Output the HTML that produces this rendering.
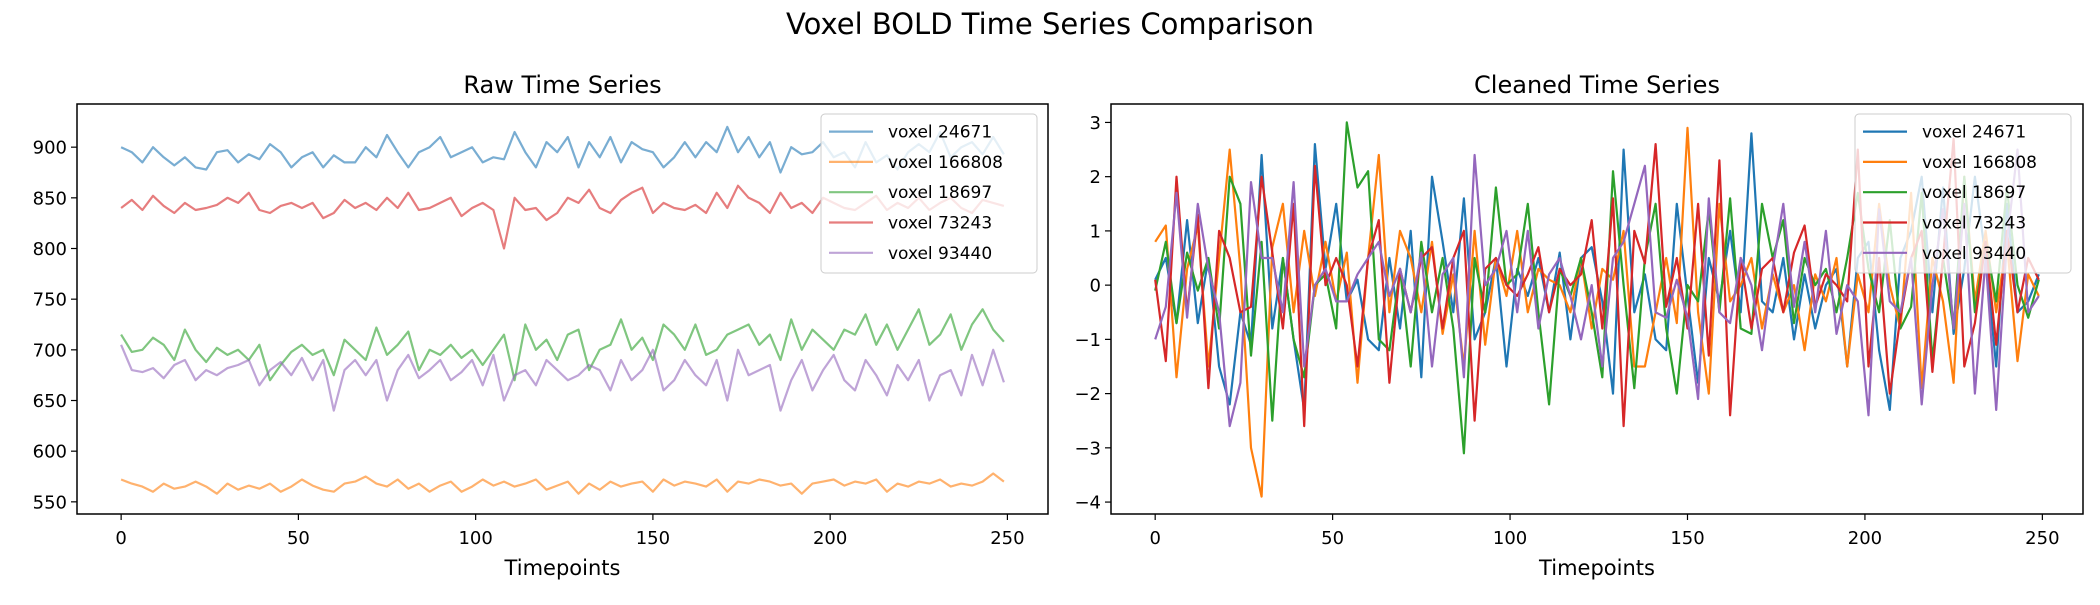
<!DOCTYPE html>
<html><head><meta charset="utf-8"><style>
body{margin:0;background:#fff}
svg text{font-family:"DejaVu Sans","Liberation Sans",sans-serif;fill:#000}
</style></head><body>
<svg id="chart" width="2100" height="600" viewBox="0 0 2100 600" xmlns="http://www.w3.org/2000/svg">
<rect width="2100" height="600" fill="#fff"/>
<text x="1050" y="34" font-size="29" text-anchor="middle">Voxel BOLD Time Series Comparison</text>
<g id="left"></g>
<g id="right"></g>
</svg>
<script>
const voxelNames = ["voxel 24671","voxel 166808","voxel 18697","voxel 73243","voxel 93440"];
const colors = ["#1f77b4","#ff7f0e","#2ca02c","#d62728","#9467bd"];
const timeStep = 3;
const xTicks = [0,50,100,150,200,250];
const rawYTicks = [550,600,650,700,750,800,850,900];
const cleanYTicks = [-4,-3,-2,-1,0,1,2,3];
const rawBlue = [900,895,885,900,890,882,890,880,878,895,897,885,893,888,903,895,880,890,895,880,892,885,885,900,890,912,895,880,895,900,910,890,895,900,885,890,888,915,895,880,905,895,910,880,905,890,910,885,905,898,895,880,890,905,890,905,895,920,895,910,890,905,875,900,893,895,905,890,895,880,905,885,892,878,895,903,895,915,890,900,905,893,910,893];
const rawOrange = [572,568,565,560,568,563,565,570,565,558,568,562,566,563,568,560,565,572,566,562,560,568,570,575,568,565,572,563,568,560,566,570,560,565,572,566,570,565,568,572,562,566,570,558,568,562,570,565,568,570,560,572,566,570,568,565,572,560,570,568,572,570,566,568,558,568,570,572,566,570,568,572,560,568,565,570,568,572,565,568,566,570,578,570];
const rawGreen = [715,698,700,712,705,690,720,700,688,702,695,700,690,705,670,685,698,705,695,700,675,710,700,690,722,695,705,718,680,700,695,705,692,700,685,700,715,670,725,700,710,690,715,720,680,700,705,730,700,712,690,725,715,700,725,695,700,715,720,725,705,715,690,730,700,720,710,700,720,715,735,705,725,700,720,740,705,715,735,700,725,740,720,708];
const rawRed = [840,848,838,852,842,835,845,838,840,843,850,845,855,838,835,842,845,840,845,830,835,848,840,845,838,850,840,855,838,840,845,850,832,840,845,838,800,850,838,840,828,835,850,845,858,840,835,848,855,860,835,845,840,838,843,835,855,840,862,850,845,835,855,840,845,835,850,845,840,838,845,852,838,845,840,850,838,845,850,840,835,848,845,842];
const rawPurple = [705,680,678,682,672,685,690,670,680,675,682,685,690,665,680,688,675,692,670,690,640,680,690,675,690,650,680,695,672,680,690,670,678,690,665,695,650,675,680,665,690,680,670,675,685,680,660,690,670,680,700,660,670,690,675,665,690,650,700,675,680,685,640,670,690,660,680,695,670,660,690,675,655,685,670,690,650,675,680,655,695,665,700,668];
const cleanBlue = [0.1,0.5,-0.7,1.2,-0.7,0.5,-1.5,-2.2,-0.5,-1.1,2.4,-0.8,0.5,-1.0,-2.3,2.6,0.3,1.5,-0.3,0.1,-1.0,-1.2,0.5,-0.8,1.0,-1.7,2.0,0.8,-0.5,1.6,-1.0,-0.5,0.5,-1.5,0.3,-0.2,0.5,-0.5,0.6,-1.0,0.5,0.7,-0.3,-2.0,2.5,-0.5,0.2,-1.0,-1.2,1.5,-0.2,-1.8,0.5,-0.3,1.0,-0.5,2.8,-0.3,-0.5,0.5,-1.0,0.2,-0.8,0.0,0.3,-1.5,0.5,0.8,-1.2,-2.3,0.5,1.0,2.0,-0.5,1.8,-0.9,0.3,2.0,0.5,-1.5,1.5,-0.5,-0.3,0.2];
const cleanOrange = [0.8,1.1,-1.7,0.3,1.1,-1.5,0.5,2.5,0.3,-3.0,-3.9,0.7,1.5,-0.5,1.0,-0.2,0.8,-0.3,0.6,-1.8,0.5,2.4,-0.5,1.0,0.5,-0.5,0.8,-0.9,0.2,-1.5,1.0,-1.1,0.5,-0.2,1.0,-0.5,0.3,0.1,0.0,-0.5,0.5,-0.8,0.3,0.1,1.0,-1.5,-1.5,-0.5,0.5,-0.7,2.9,-0.5,-2.0,1.5,-0.3,0.0,0.5,-0.8,0.2,-0.5,0.0,-1.2,0.2,-0.3,0.5,-1.5,0.2,-0.5,1.5,0.0,-0.8,1.7,-1.9,0.5,-0.3,-1.8,2.0,-0.3,1.0,-0.5,0.8,-1.4,0.2,-0.2];
const cleanGreen = [-0.1,0.8,-0.7,0.6,-0.1,0.5,-0.8,2.0,1.5,-1.3,0.8,-2.5,0.5,-1.0,-1.7,0.0,0.2,-0.8,3.0,1.8,2.1,-1.0,-1.2,0.3,-1.5,0.8,-0.5,0.5,-0.8,-3.1,0.5,-0.5,1.8,0.0,0.2,1.5,-0.5,-2.2,0.3,-0.2,0.5,-0.5,-1.7,2.1,0.0,-1.9,0.5,1.5,-0.8,-2.0,0.0,-0.3,1.4,-0.5,1.6,-0.8,-0.9,1.5,0.5,1.2,-0.7,0.5,0.0,0.3,-0.5,0.5,1.7,0.3,-0.5,1.2,-0.8,-0.4,1.7,-1.4,0.5,-0.8,2.0,-0.5,0.8,-0.3,1.8,0.0,-0.6,0.1];
const cleanRed = [0.1,-1.4,2.0,-0.5,1.3,-1.9,1.0,0.5,-0.5,-0.4,2.0,0.6,-0.8,1.5,-2.6,2.2,0.0,0.5,0.0,-1.5,0.5,1.2,-1.8,0.3,-0.5,0.5,0.7,-0.8,0.5,1.0,-2.5,0.3,0.5,0.0,-0.2,0.2,0.7,-0.5,0.3,0.0,0.2,1.2,-0.8,1.6,-2.6,1.0,0.4,2.6,-0.4,0.5,-0.8,1.5,-1.3,2.3,-2.4,0.5,-0.8,0.3,0.5,-0.5,0.6,1.1,-0.4,0.2,0.0,-0.3,2.5,-1.5,0.5,-2.0,-0.6,0.5,1.0,-1.6,0.5,2.7,-1.5,-0.7,0.8,-1.1,1.0,-0.5,0.5,0.1];
const cleanPurple = [-1.0,-0.4,1.7,-0.6,1.5,0.3,-0.5,-2.6,-1.8,1.9,0.5,0.5,-0.5,1.9,-1.5,0.0,0.3,-0.3,-0.3,0.2,0.5,0.8,-0.2,0.3,-0.5,0.6,-1.5,0.2,0.5,-1.7,2.4,0.0,0.3,1.0,-0.5,1.0,-0.8,0.2,0.5,-0.2,-1.0,0.0,-1.5,0.5,0.8,1.5,2.2,-0.5,-0.6,0.1,-0.6,-2.1,1.6,-0.5,-0.7,0.5,0.0,-1.2,0.3,1.5,-0.4,0.8,-0.5,1.0,-0.9,0.0,-0.3,-2.4,1.4,-0.3,-0.5,0.5,-2.2,0.0,1.4,-0.8,1.5,-2.0,0.5,-2.3,0.8,2.5,-0.5,-0.2];

const NS="http://www.w3.org/2000/svg";
function mk(tag, attrs, parent){const e=document.createElementNS(NS,tag);for(const k in attrs)e.setAttribute(k,attrs[k]);parent.appendChild(e);return e;}

function panel(g, box, title, series, yTicks, ymin, ymax, alpha, leg, prefix){
  const xmin=-12.45, xmax=261.45;
  const X=v=>box.x0+(v-xmin)/(xmax-xmin)*(box.x1-box.x0);
  const Y=v=>box.y1-(v-ymin)/(ymax-ymin)*(box.y1-box.y0);
  const t=mk('text',{x:(box.x0+box.x1)/2,y:93,'font-size':24,'text-anchor':'middle'},g);
  t.textContent=title;
  
  
  series.forEach((s,si)=>{
    const pts=s.map((v,i)=>X(i*timeStep).toFixed(1)+','+Y(v).toFixed(1)).join(' ');
    const p=mk('polyline',{points:pts,fill:'none',stroke:colors[si],'stroke-width':2.2,'stroke-opacity':alpha,'stroke-linejoin':'round'},g);
    
    
  });
  const fr=mk('rect',{x:box.x0,y:box.y0,width:box.x1-box.x0,height:box.y1-box.y0,fill:'none',stroke:'#000','stroke-width':1.5},g);
  
  
  xTicks.forEach(v=>{
    mk('line',{x1:X(v),x2:X(v),y1:box.y1,y2:box.y1+6,stroke:'#000','stroke-width':1.2},g);
    const tl=mk('text',{x:X(v),y:box.y1+30,'font-size':18,'text-anchor':'middle'},g);
    tl.textContent=v;
    
    
  });
  yTicks.forEach(v=>{
    mk('line',{x1:box.x0-6,x2:box.x0,y1:Y(v),y2:Y(v),stroke:'#000','stroke-width':1.2},g);
    const tl=mk('text',{x:box.x0-10,y:Y(v)+6.5,'font-size':18,'text-anchor':'end'},g);
    tl.textContent=v<0?'\u2212'+Math.abs(v):v;
    
    
  });
  const xl=mk('text',{x:(box.x0+box.x1)/2,y:575,'font-size':21,'text-anchor':'middle'},g);
  xl.textContent='Timepoints';
  
  
  const lg=mk('g',{},g);
  
  
  mk('rect',{x:leg.x,y:114,width:leg.w,height:159,rx:4,fill:'#fff','fill-opacity':0.8,stroke:'#ccc','stroke-width':1},lg);
  voxelNames.forEach((n,i)=>{
    const y=131.6+i*30.3;
    mk('line',{x1:leg.x+8,x2:leg.x+52,y1:y,y2:y,stroke:colors[i],'stroke-width':2.2,'stroke-opacity':alpha},lg);
    const tx=mk('text',{x:leg.x+67,y:y+6,'font-size':17},lg);
    tx.textContent=n;
    
    
  });
}
panel(document.getElementById('left'),{x0:77,x1:1048,y0:104,y1:514},'Raw Time Series',
  [rawBlue,rawOrange,rawGreen,rawRed,rawPurple],rawYTicks,538,942.6,0.6,{x:821,w:216},'raw');
panel(document.getElementById('right'),{x0:1111,x1:2083,y0:104,y1:514},'Cleaned Time Series',
  [cleanBlue,cleanOrange,cleanGreen,cleanRed,cleanPurple],cleanYTicks,-4.22,3.34,1,{x:1855,w:216},'clean');
</script>
</body></html>
